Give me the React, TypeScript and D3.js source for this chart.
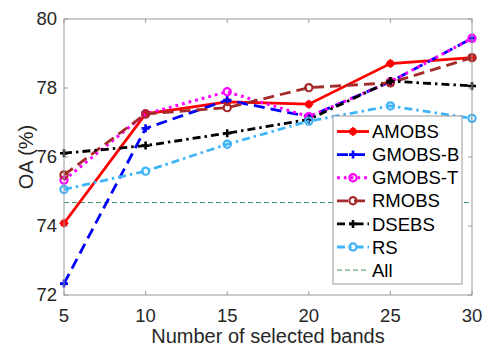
import React from "react";
import * as d3 from "d3";

const bands = [5, 10, 15, 20, 25, 30];
const amobs = [74.08, 77.25, 77.6, 77.53, 78.71, 78.88];
const gmobsB = [72.33, 76.83, 77.65, 77.17, 78.18, 79.44];
const gmobsT = [75.33, 77.25, 77.89, 77.17, 78.18, 79.44];
const rmobs = [75.48, 77.25, 77.43, 78.01, 78.15, 78.88];
const dsebs = [76.11, 76.33, 76.69, 77.09, 78.2, 78.06];
const rs = [75.06, 75.59, 76.37, 77.04, 77.48, 77.12];
const allValue = 74.68;
const xTicks = [5, 10, 15, 20, 25, 30];
const yTicks = [72, 74, 76, 78, 80];
const seriesNames = ["AMOBS", "GMOBS-B", "GMOBS-T", "RMOBS", "DSEBS", "RS", "All"];

type Marker = "dot" | "plus" | "circle";
interface Series {
  name: string;
  values: number[];
  color: string;
  dash: string;
  width: number;
  marker: Marker;
}

const series: Series[] = [
  { name: seriesNames[0], values: amobs, color: "#ff0000", dash: "none", width: 2.8, marker: "dot" },
  { name: seriesNames[1], values: gmobsB, color: "#0000ff", dash: "11 6", width: 2.8, marker: "plus" },
  { name: seriesNames[2], values: gmobsT, color: "#ff00ff", dash: "2.8 4", width: 3, marker: "circle" },
  { name: seriesNames[3], values: rmobs, color: "#a52a2a", dash: "11 6", width: 2.8, marker: "circle" },
  { name: seriesNames[4], values: dsebs, color: "#000000", dash: "8 4 2.5 4", width: 2.8, marker: "plus" },
  { name: seriesNames[5], values: rs, color: "#40b4f8", dash: "8 4 2.5 4", width: 2.8, marker: "circle" },
];

const W = 486;
const H = 350;
const L = 64, R = 472, T = 19, B = 295;
const FONT = "'Liberation Sans', Arial, Helvetica, sans-serif";
const TXT = "#262626";
const AX = "#9a9a9a";

function MarkerShape({ type, x, y, color }: { type: Marker; x: number; y: number; color: string }) {
  if (type === "dot") {
    return (
      <g>
        <circle cx={x} cy={y} r={3.8} fill={color} />
        <path d={`M${x - 4.5},${y}H${x + 4.5}M${x},${y - 4.5}V${y + 4.5}`} stroke={color} strokeWidth={1.5} />
      </g>
    );
  }
  if (type === "plus") {
    return (
      <path d={`M${x - 4},${y}H${x + 4}M${x},${y - 4}V${y + 4}`} stroke={color} strokeWidth={2.6} />
    );
  }
  return <circle cx={x} cy={y} r={3.6} fill="none" stroke={color} strokeWidth={2.2} />;
}

export default function App() {
  const x = d3.scaleLinear().domain([5, 30]).range([L, R]);
  const y = d3.scaleLinear().domain([72, 80]).range([B, T]);
  const line = d3
    .line<number>()
    .x((_, i) => x(bands[i]))
    .y((d) => y(d));

  const legX = 333, legY = 116, legW = 129, legH = 168;
  const rowY = (i: number) => 131.5 + i * 23.1;

  return (
    <svg width={W} height={H} style={{ position: "absolute", left: 0, top: 0, background: "#fff" }} fontFamily={FONT}>
      <rect x={0} y={0} width={W} height={H} fill="#fff" />
      {/* All line */}
      <line x1={L} x2={R} y1={y(allValue)} y2={y(allValue)} stroke="#3d9a5c" strokeWidth={1} strokeDasharray="5 3" />
      {series.map((s) => (
        <g key={s.name}>
          <path d={line(s.values) || ""} fill="none" stroke={s.color} strokeWidth={s.width} strokeDasharray={s.dash} />
          {s.values.map((v, i) => (
            <MarkerShape key={i} type={s.marker} x={x(bands[i])} y={y(v)} color={s.color} />
          ))}
        </g>
      ))}
      {/* axes box */}
      <rect x={L} y={T} width={R - L} height={B - T} fill="none" stroke={AX} strokeWidth={1} />
      {xTicks.map((t) => (
        <g key={"x" + t}>
          <line x1={x(t)} x2={x(t)} y1={B} y2={B - 4} stroke={AX} />
          <line x1={x(t)} x2={x(t)} y1={T} y2={T + 4} stroke={AX} />
          <text x={x(t)} y={322} textAnchor="middle" fontSize={18.5} fill={TXT}>
            {t}
          </text>
        </g>
      ))}
      {yTicks.map((t) => (
        <g key={"y" + t}>
          <line x1={L} x2={L + 4} y1={y(t)} y2={y(t)} stroke={AX} />
          <line x1={R} x2={R - 4} y1={y(t)} y2={y(t)} stroke={AX} />
          <text x={57} y={y(t)} dy="0.35em" textAnchor="end" fontSize={18.5} fill={TXT}>
            {t}
          </text>
        </g>
      ))}
      <text x={(L + R) / 2} y={343} textAnchor="middle" fontSize={20} fill={TXT}>
        Number of selected bands
      </text>
      <text
        transform={`translate(33,${(T + B) / 2}) rotate(-90)`}
        textAnchor="middle"
        fontSize={20}
        fill={TXT}
      >
        OA (%)
      </text>
      {/* legend */}
      <rect x={legX} y={legY} width={legW} height={legH} fill="#fff" stroke={AX} strokeWidth={1} />
      {series.map((s, i) => (
        <g key={"leg" + s.name}>
          <line x1={337} x2={369} y1={rowY(i)} y2={rowY(i)} stroke={s.color} strokeWidth={s.width} strokeDasharray={s.dash} />
          <MarkerShape type={s.marker} x={353} y={rowY(i)} color={s.color} />
          <text x={372} y={rowY(i)} dy="0.36em" fontSize={18.5} fill="#000">
            {s.name}
          </text>
        </g>
      ))}
      <line x1={337} x2={369} y1={rowY(6)} y2={rowY(6)} stroke="#3d9a5c" strokeWidth={1} strokeDasharray="5 3" />
      <text x={372} y={rowY(6)} dy="0.36em" fontSize={18.5} fill="#000">
        {seriesNames[6]}
      </text>
    </svg>
  );
}
